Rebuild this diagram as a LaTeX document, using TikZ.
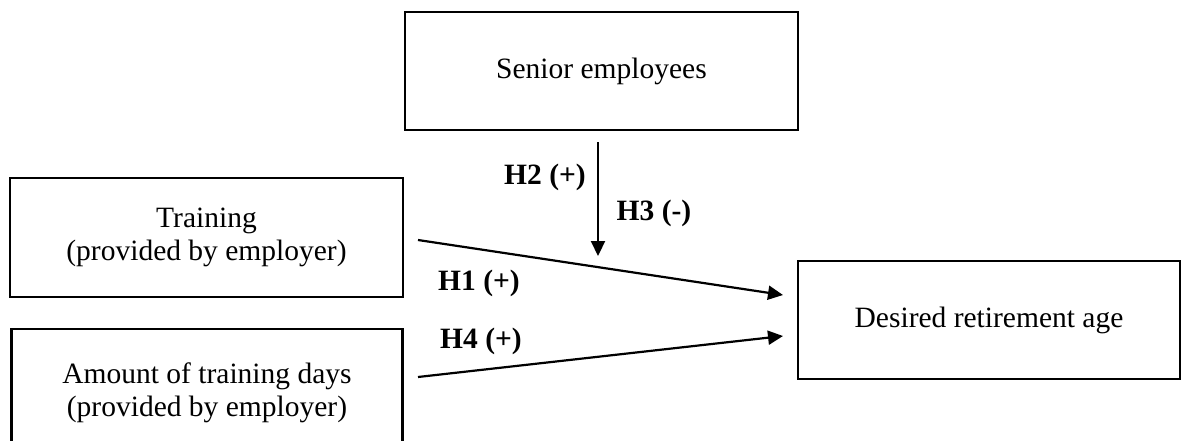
\documentclass[tikz,border=0pt]{standalone}
\usepackage{fontspec}
\setmainfont{Liberation Serif}
\usetikzlibrary{arrows.meta}
\begin{document}
\begin{tikzpicture}[x=1pt,y=-1pt,
  box/.style={draw=black,line width=2.6pt,rectangle,inner sep=0pt,align=center,
    font=\fontsize{29.5}{33}\selectfont},
  arr/.style={line width=2.2pt,-{Triangle[length=15pt,width=14pt]}},
  lab/.style={font=\fontsize{29.5}{33}\selectfont\bfseries,inner sep=0pt}]
\useasboundingbox (0,0) rectangle (1182,441);
\clip (0,0) rectangle (1182,441);
\fill[white] (0,0) rectangle (1182,441);
\node[box,minimum width=393pt,minimum height=118pt] (senior) at (601.5,71) {Senior employees};
\node[box,minimum width=393pt,minimum height=119pt] (train) at (206.5,237.5) {Training\\(provided by employer)};
\node[box,minimum width=391pt,minimum height=128pt] (amount) at (207,393) {Amount of training days\\(provided by employer)};
\node[box,minimum width=382pt,minimum height=118pt] (desired) at (989,320) {Desired retirement age};
\coordinate (vs) at (598,142);
\coordinate (ve) at (598,256);
\coordinate (t1s) at (418,240);
\coordinate (t1e) at (783,295);
\coordinate (t2s) at (418,377);
\coordinate (t2e) at (783,336);
\draw[arr] (vs) -- (ve);
\draw[arr] (t1s) -- (t1e);
\draw[arr] (t2s) -- (t2e);
\node[lab] (h2) at (545,177) {H2 (+)};
\node[lab] (h3) at (654,213) {H3 (-)};
\node[lab] (h1) at (479,283) {H1 (+)};
\node[lab] (h4) at (481,341) {H4 (+)};
\end{tikzpicture}
\end{document}
